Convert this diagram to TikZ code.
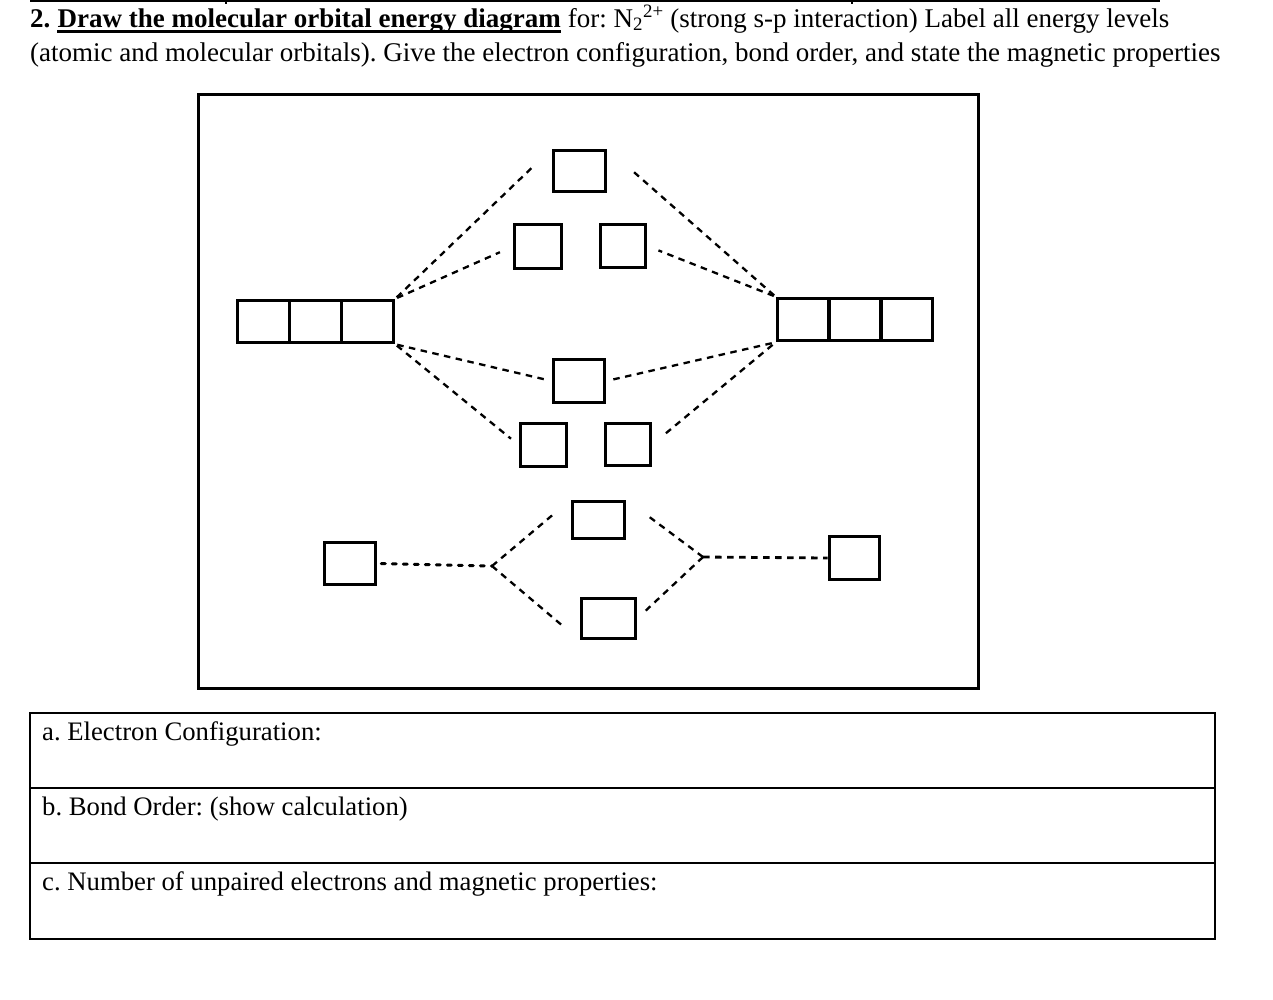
\documentclass[tikz,border=0pt]{standalone}
\usepackage{fontspec}
\setmainfont{Liberation Serif}
\frenchspacing
\begin{document}
\begin{tikzpicture}[x=1pt,y=-1pt,
  orb/.style={draw, line width=3.6pt, inner sep=0pt},
  frame/.style={draw, line width=3pt},
  dl/.style={line width=2.3pt, dash pattern=on 6.5pt off 5.5pt},
  txt/.style={inner sep=0pt, anchor=base west, font=\fontsize{27}{30}\selectfont},
  ttxt/.style={inner sep=0pt, anchor=base west, font=\fontsize{26.7}{30}\selectfont},
  tbl/.style={line width=1.5pt}]
\useasboundingbox (0,0) rectangle (1273,999);
\frenchspacing
% top rule remnant
\draw[line width=1.3pt] (30,1) -- (1160,1);
\draw[line width=1.3pt] (226,0) -- (226,4);
\draw[line width=1.3pt] (852,0) -- (852,4);
% title
\node[txt] (t0) at (30,27) {\textbf{2.}};
\node[txt] (tu) at ([xshift=6.8pt]t0.base east) {\textbf{Draw the molecular orbital energy diagram}};
\node[txt] (t1) at (tu.base east) {\ for: N\textsubscript{2}\textsuperscript{2+} (strong s-p interaction) Label all energy levels};
\draw[line width=2.6pt] ([yshift=-4.5pt]tu.base west) -- ([yshift=-4.5pt]tu.base east);
\node[txt] (t2) at (30,61) {(atomic and molecular orbitals). Give the electron configuration, bond order, and state the magnetic properties};
% main frame
\draw[frame] (198.5,94.5) rectangle (978.5,688.5);
% left 2p group
\node[orb, minimum width=52pt, minimum height=42pt] (L1) at (263.5,321.5) {};
\node[orb, minimum width=52pt, minimum height=42pt] (L2) at (315.5,321.5) {};
\node[orb, minimum width=52pt, minimum height=42pt] (L3) at (367.5,321.5) {};
% right 2p group
\node[orb, minimum width=51.7pt, minimum height=42pt] (R1) at (803.3,319.5) {};
\node[orb, minimum width=51.7pt, minimum height=42pt] (R2) at (855,319.5) {};
\node[orb, minimum width=51.7pt, minimum height=42pt] (R3) at (906.7,319.5) {};
% MOs
\node[orb, minimum width=52pt, minimum height=41pt] (sp2s) at (579.5,171) {};
\node[orb, minimum width=47pt, minimum height=44pt] (pis1) at (538,246.5) {};
\node[orb, minimum width=45pt, minimum height=43pt] (pis2) at (623,246) {};
\node[orb, minimum width=51pt, minimum height=43pt] (sp) at (579,381) {};
\node[orb, minimum width=46pt, minimum height=43pt] (pib1) at (543.5,445) {};
\node[orb, minimum width=45pt, minimum height=42pt] (pib2) at (628,444.5) {};
\node[orb, minimum width=52pt, minimum height=37pt] (ssx) at (598.5,520) {};
\node[orb, minimum width=54pt, minimum height=40pt] (ss) at (608.5,618.5) {};
% 2s AOs
\node[orb, minimum width=51pt, minimum height=42pt] (aoL) at (350,563.5) {};
\node[orb, minimum width=50pt, minimum height=43pt] (aoR) at (854.5,558) {};
\coordinate (JL) at (492,566);
\coordinate (JR) at (703,557);
% connectors 2p
\draw[dl, shorten <=2pt, shorten >=28pt] (L3.north east) -- (sp2s.north west);
\draw[dl, shorten <=2pt, shorten >=14pt] (L3.north east) -- (pis1.west);
\draw[dl, shorten <=2pt, shorten >=31pt] (R1.north west) -- (sp2s.north east);
\draw[dl, shorten <=2pt, shorten >=12pt] (R1.north west) -- (pis2.east);
\draw[dl, shorten <=2pt, shorten >=3pt] (L3.south east) -- (sp.west);
\draw[dl, shorten <=2pt, shorten >=10pt] (L3.south east) -- (pib1.west);
\draw[dl, shorten <=4pt, shorten >=2pt] (R1.south west) -- (sp.east);
\draw[dl, shorten <=4pt, shorten >=14pt] (R1.south west) -- (pib2.east);
% connectors 2s
\draw[dl, line width=3pt, line cap=round, dash pattern=on 4pt off 7pt, shorten <=4pt] (aoL.east) -- (JL);
\draw[dl, shorten >=20pt] (JL) -- (ssx.north west);
\draw[dl, shorten >=20pt] (JL) -- (ss.south west);
\draw[dl, shorten >=25pt] (JR) -- (ssx.north east);
\draw[dl, shorten >=6pt] (JR) -- (ss.east);
\draw[dl, line width=2.8pt] (JR) -- (aoR.west);
% table
\draw[tbl] (30,713) rectangle (1215,939);
\draw[tbl] (30,788) -- (1215,788);
\draw[tbl] (30,863) -- (1215,863);
\node[ttxt] (ta) at (42,740) {a. Electron Configuration:};
\node[ttxt] (tb) at (42,815) {b. Bond Order: (show calculation)};
\node[ttxt] (tc) at (42,890) {c. Number of unpaired electrons and magnetic properties:};
\end{tikzpicture}
\end{document}
